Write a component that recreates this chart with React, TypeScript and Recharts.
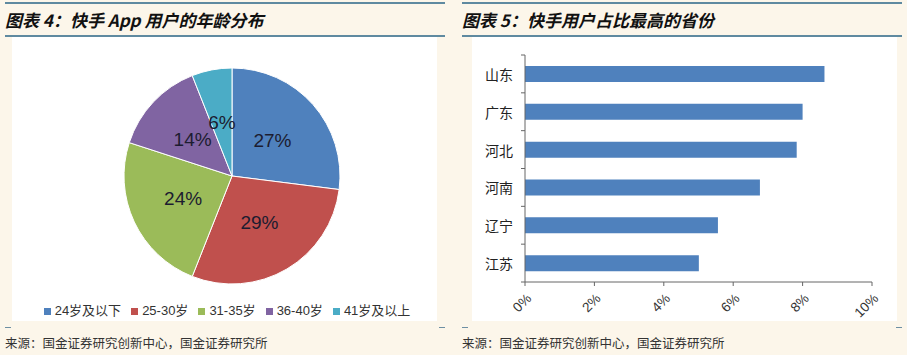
import { PieChart, Pie, Cell, Legend, BarChart, Bar, XAxis, YAxis } from 'recharts';

const ageGroups = ['24岁及以下', '25-30岁', '31-35岁', '36-40岁', '41岁及以上'];
const ageShares = [27, 29, 24, 14, 6];
const ageColors = ['#4F81BD', '#C0504D', '#9BBB59', '#8064A2', '#4BACC6'];

const provinces = ['山东', '广东', '河北', '河南', '辽宁', '江苏'];
const provinceShares = [8.63, 8.0, 7.83, 6.77, 5.56, 5.01];
const pctTicks = [0, 2, 4, 6, 8, 10];

const FONT = '"Liberation Sans", Arial, "Noto Sans CJK SC", sans-serif';
const CJK = '"Noto Sans CJK SC", "Liberation Sans", sans-serif';
const RADIAN = Math.PI / 180;
const BAND = 227 / 6;

const pieData = ageGroups.map((name, i) => ({ name, value: ageShares[i] }));
const barData = provinces.map((name, i) => ({ name, value: provinceShares[i] }));

function PieLabel(props: any) {
  const { cx, cy, midAngle, outerRadius, value } = props;
  const r = outerRadius * 0.5;
  const x = cx + r * Math.cos(-midAngle * RADIAN);
  const y = cy + r * Math.sin(-midAngle * RADIAN);
  return (
    <text x={x} y={y} textAnchor="middle" dominantBaseline="central" fontSize={19} fill="#1c1c30" fontFamily={FONT}>
      {value}%
    </text>
  );
}

function ProvinceTick(props: any) {
  const { x, y, payload, index } = props;
  return (
    <g>
      <text x={x} y={y} textAnchor="end" dominantBaseline="central" fontSize={14} fill="#222" fontFamily={CJK}>
        {payload.value}
      </text>
      <line x1={x + 8} x2={x + 12} y1={y - BAND / 2} y2={y - BAND / 2} stroke="#666" />
      {index === provinces.length - 1 && (
        <line x1={x + 8} x2={x + 12} y1={y + BAND / 2} y2={y + BAND / 2} stroke="#666" />
      )}
    </g>
  );
}

function PctTick(props: any) {
  const { x, y, payload } = props;
  const ax = x + 4;
  const ay = y + 8;
  return (
    <text
      x={ax}
      y={ay}
      textAnchor="end"
      dominantBaseline="central"
      transform={`rotate(-45, ${ax}, ${ay})`}
      fontSize={13.5}
      fill="#333"
      fontFamily={FONT}
    >
      {payload.value}%
    </text>
  );
}

function TitleBar({ left, width, text }: { left: number; width: number; text: string }) {
  return (
    <>
      <div style={{ position: 'absolute', left, top: 2, width, height: 1.5, background: '#5f8aa0' }} />
      <div style={{ position: 'absolute', left, top: 35, width, height: 1.5, background: '#5f8aa0' }} />
      <div
        style={{
          position: 'absolute',
          left,
          top: 7,
          fontSize: 17,
          fontWeight: 'bold',
          fontStyle: 'italic',
          fontFamily: CJK,
          color: '#111',
          whiteSpace: 'nowrap',
        }}
      >
        {text}
      </div>
    </>
  );
}

function Footer({ left, width }: { left: number; width: number }) {
  return (
    <>
      <div style={{ position: 'absolute', left, top: 327, width: 6, height: 1, background: '#6d8fa3' }} />
      <div style={{ position: 'absolute', left: left + width - 6, top: 327, width: 6, height: 1, background: '#6d8fa3' }} />
      <div
        style={{
          position: 'absolute',
          left,
          top: 333,
          fontSize: 12.5,
          fontFamily: CJK,
          color: '#333',
          whiteSpace: 'nowrap',
        }}
      >
        来源：国金证券研究创新中心，国金证券研究所
      </div>
    </>
  );
}

export default function App() {
  return (
    <div style={{ position: 'absolute', left: 0, top: 0, width: 907, height: 355, background: '#fcf6ea', overflow: 'hidden' }}>
      <div style={{ position: 'absolute', left: 12, top: 37, width: 425, height: 284, background: '#fff' }} />
      <div style={{ position: 'absolute', left: 472, top: 37, width: 425, height: 284, background: '#fff' }} />

      <TitleBar left={5} width={440} text="图表 4：快手 App 用户的年龄分布" />
      <TitleBar left={462} width={440} text="图表 5：快手用户占比最高的省份" />

      <div style={{ position: 'absolute', left: 0, top: 36 }}>
        <PieChart width={464} height={286} margin={{ top: 0, right: 0, bottom: 0, left: 0 }}>
          <Pie
            data={pieData}
            dataKey="value"
            nameKey="name"
            cx={232}
            cy={140}
            outerRadius={108}
            startAngle={90}
            endAngle={-270}
            stroke="#fff"
            strokeWidth={1}
            label={PieLabel}
            labelLine={false}
            isAnimationActive={false}
          >
            {pieData.map((d, i) => (
              <Cell key={d.name} fill={ageColors[i]} />
            ))}
          </Pie>
          <Legend
            iconType="square"
            iconSize={7}
            verticalAlign="bottom"
            wrapperStyle={{ top: 264, bottom: 'auto', left: 0, width: 464, fontSize: 13, fontFamily: FONT }}
            formatter={(v: string) => <span style={{ color: '#333' }}>{v}</span>}
          />
        </PieChart>
      </div>

      <div style={{ position: 'absolute', left: 460, top: 36 }}>
        <BarChart width={447} height={290} data={barData} layout="vertical" margin={{ top: 19, right: 35, bottom: 4, left: 0 }}>
          <XAxis
            type="number"
            domain={[0, 10]}
            ticks={pctTicks}
            height={40}
            tickSize={4}
            tickMargin={2}
            stroke="#666"
            tick={PctTick}
          />
          <YAxis
            type="category"
            dataKey="name"
            width={65}
            tickSize={4}
            tickMargin={8}
            tickLine={false}
            stroke="#666"
            tick={ProvinceTick}
          />
          <Bar dataKey="value" fill="#4F81BD" barSize={16} isAnimationActive={false} />
        </BarChart>
      </div>

      <Footer left={5} width={440} />
      <Footer left={462} width={440} />
    </div>
  );
}
